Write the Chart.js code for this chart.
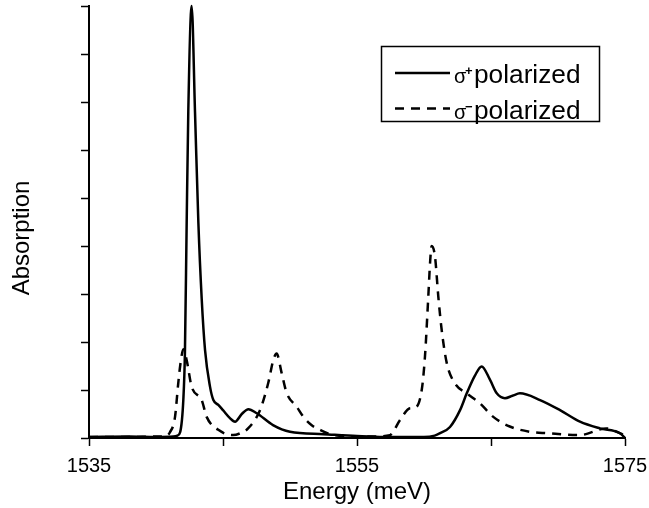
<!DOCTYPE html>
<html>
<head>
<meta charset="utf-8">
<script src="https://cdn.jsdelivr.net/npm/chart.js@4/dist/chart.umd.min.js"></script>
<style>
html,body{margin:0;padding:0;background:#fff;}
#wrap{width:649px;height:508px;}
</style>
</head>
<body>
<div id="wrap"><canvas id="c" width="649" height="508"></canvas></div>
<script>
// ---- data ----
const plusEnergy = [1535,1538,1540,1541.3,1541.6,1541.8,1542.04,1542.16,1542.29,1542.41,1542.66,1542.91,1543.16,1543.41,1543.66,1544.03,1544.28,1544.65,1545.0,1545.5,1545.9,1546.4,1546.9,1547.5,1548.73,1550.0,1552.5,1555,1557,1560,1560.8,1561.2,1561.94,1562.69,1563.19,1563.8,1564.3,1564.93,1565.43,1566.04,1566.6,1567.16,1568.66,1570.15,1571.64,1573.13,1574.63,1575];
const plusAbs    = [0.02,0.03,0.02,0.03,0.05,0.12,0.8,1.8,4.5,6.8,9.0,6.8,4.5,2.9,1.83,1.07,0.79,0.69,0.58,0.42,0.34,0.5,0.6,0.52,0.27,0.13,0.08,0.04,0.02,0.02,0.05,0.1,0.23,0.58,0.93,1.3,1.49,1.21,0.93,0.83,0.88,0.93,0.79,0.58,0.34,0.2,0.1,0.0];

const minusEnergy = [1535,1538,1540,1540.7,1541.04,1541.42,1541.66,1541.85,1542.04,1542.29,1542.66,1543.41,1543.78,1544.65,1545.75,1546.3,1546.87,1547.76,1548.38,1548.75,1549.0,1549.38,1549.75,1550.5,1551.0,1551.6,1552.24,1553,1554.5,1556,1557.46,1558.2,1558.96,1559.33,1559.83,1560.07,1560.32,1560.45,1560.57,1560.82,1561.07,1561.32,1561.7,1562.3,1563.19,1564.18,1565.17,1566.4,1567.9,1569.2,1571.6,1573.6,1574.6,1575];
const minusAbs    = [0.02,0.02,0.03,0.04,0.12,0.44,1.14,1.6,1.85,1.62,1.07,0.79,0.44,0.17,0.06,0.1,0.2,0.58,1.15,1.62,1.76,1.35,0.94,0.65,0.44,0.27,0.17,0.08,0.04,0.03,0.06,0.37,0.62,0.63,1.0,1.69,2.94,3.64,4.0,3.78,2.94,2.25,1.56,1.14,0.93,0.72,0.44,0.24,0.13,0.1,0.06,0.2,0.1,0.05];

const xMajorLabels = [1535,1555,1575];
const xTitle = 'Energy (meV)';
const yTitle = 'Absorption';
const seriesNames = ['polarized','polarized'];
const seriesSigns = ['+','\u2212'];

function pts(xs, ys){ return xs.map((x,i)=>({x:x, y:ys[i]})); }

const FONT = 'Liberation Sans, Arial, Helvetica, sans-serif';

const annotPlugin = {
  id:'customAnnot',
  afterDraw(chart){
    const ctx = chart.ctx;
    ctx.save();
    // y-axis title
    ctx.fillStyle = '#000';
    ctx.font = '24px ' + FONT;
    ctx.textAlign = 'center';
    ctx.textBaseline = 'middle';
    ctx.translate(22, 238);
    ctx.rotate(-Math.PI/2);
    ctx.fillText(yTitle, 0, 0);
    ctx.restore();

    ctx.save();
    ctx.strokeStyle = '#000';
    ctx.lineWidth = 1.5;
    ctx.strokeRect(381.5, 46.5, 218, 75);
    const rows = [73, 108.5];
    rows.forEach((y, i) => {
      ctx.beginPath();
      ctx.lineWidth = 2.5;
      ctx.setLineDash(i === 0 ? [] : [9,7]);
      ctx.moveTo(395, y);
      ctx.lineTo(450, y);
      ctx.stroke();
      ctx.setLineDash([]);
      ctx.fillStyle = '#000';
      ctx.textAlign = 'left';
      ctx.textBaseline = 'alphabetic';
      const base = y + 10;
      ctx.font = '20px ' + FONT;
      ctx.fillText('\u03C3', 454, base);
      ctx.font = 'bold 13px ' + FONT;
      ctx.fillText(seriesSigns[i], 465, base - 8);
      ctx.save();
      ctx.translate(474, base);
      ctx.scale(1.05, 1);
      ctx.font = '25px ' + FONT;
      ctx.fillText(seriesNames[i], 0, 0);
      ctx.restore();
    });
    ctx.restore();
  }
};

new Chart(document.getElementById('c'), {
  type: 'line',
  data: {
    datasets: [
      {
        label: 'σ+ polarized',
        data: pts(plusEnergy, plusAbs),
        borderColor: '#000',
        borderWidth: 2.5,
        pointRadius: 0,
        fill: false,
        cubicInterpolationMode: 'monotone',
        clip: false
      },
      {
        label: 'σ- polarized',
        data: pts(minusEnergy, minusAbs),
        borderColor: '#000',
        borderWidth: 2.5,
        borderDash: [9,7],
        pointRadius: 0,
        fill: false,
        cubicInterpolationMode: 'monotone',
        clip: false
      }
    ]
  },
  options: {
    responsive: false,
    animation: false,
    devicePixelRatio: 1,
    layout: { padding: { top: 6, right: 24, left: 0, bottom: 0 } },
    plugins: { legend: { display: false }, tooltip: { enabled: false } },
    scales: {
      x: {
        type: 'linear',
        min: 1535, max: 1575,
        border: { color: '#000', width: 2 },
        grid: { drawOnChartArea: false, drawTicks: true, tickLength: 8, tickColor: '#000', tickWidth: 1.5 },
        ticks: {
          stepSize: 10,
          color: '#000',
          font: { family: FONT, size: 20 },
          padding: 8,
          maxRotation: 0,
          autoSkip: false,
          callback: (v) => xMajorLabels.includes(v) ? String(v) : ''
        },
        title: { display: true, text: xTitle, color: '#000', font: { family: FONT, size: 24 }, padding: { top: 0, bottom: 1 } },
        afterFit: (s) => { s.height = 70; s.paddingLeft = 0; s.paddingRight = 0; }
      },
      y: {
        min: 0, max: 9,
        border: { color: '#000', width: 2 },
        grid: { drawOnChartArea: false, drawTicks: true, tickLength: 8, tickColor: '#000', tickWidth: 1.5 },
        ticks: { stepSize: 1, display: false },
        title: { display: false },
        afterFit: (s) => { s.width = 89; s.paddingTop = 0; s.paddingBottom = 0; }
      }
    }
  },
  plugins: [annotPlugin]
});
</script>
</body>
</html>
